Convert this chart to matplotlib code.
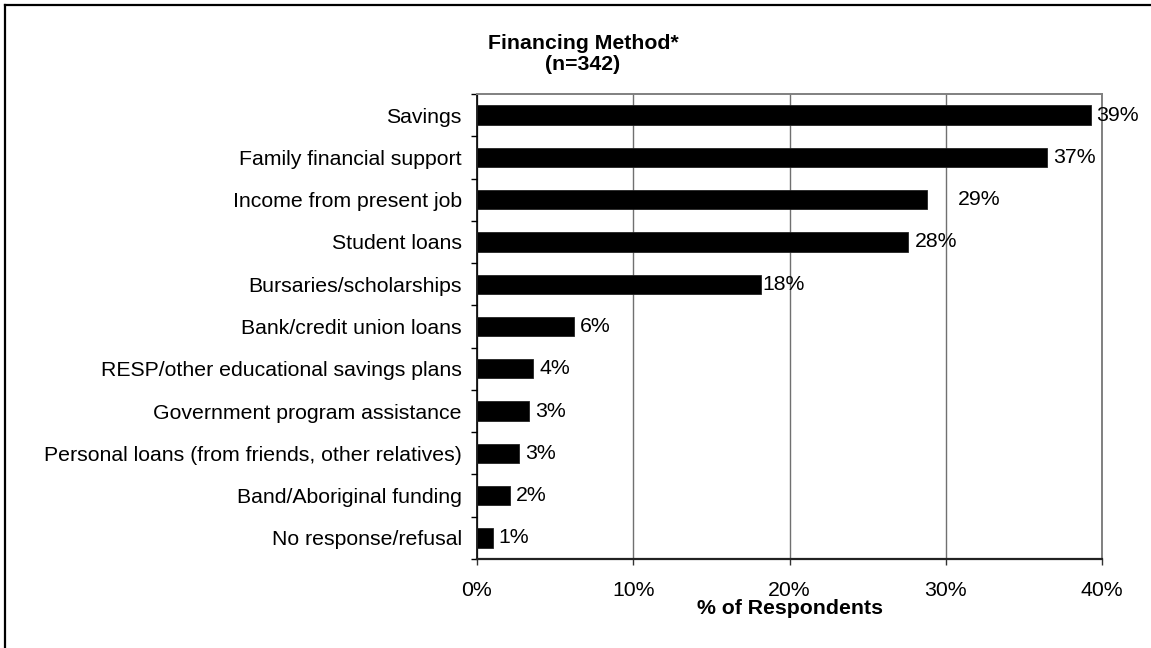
import matplotlib
matplotlib.use("Agg")
import matplotlib.pyplot as plt
from matplotlib.lines import Line2D
from matplotlib.ticker import FixedLocator, PercentFormatter

categories = [
	"Savings",
	"Family financial support",
	"Income from present job",
	"Student loans",
	"Bursaries/scholarships",
	"Bank/credit union loans",
	"RESP/other educational savings plans",
	"Government program assistance",
	"Personal loans (from friends, other relatives)",
	"Band/Aboriginal funding",
	"No response/refusal",
]
percent = [39.3, 36.5, 28.8, 27.6, 18.2, 6.2, 3.6, 3.3, 2.7, 2.1, 1.0]
labels = ["39%", "37%", "29%", "28%", "18%", "6%", "4%", "3%", "3%", "2%", "1%"]
x_ticks = [0, 10, 20, 30, 40]

# extra push (in points) for a couple of the value labels
label_nudge = {0: -1, 2: 18, 4: -4}

plt.rcParams['font.family'] = ['Liberation Sans', 'DejaVu Sans']
fs = 15.3

fig = plt.figure(figsize=(11.51, 6.48), dpi=100)
ax = fig.add_axes([477 / 1151, 1 - 559 / 648, (1102 - 477) / 1151, (559 - 94) / 648])

ypos = list(range(len(categories)))
ax.barh(ypos, percent, height=0.46, color='black', edgecolor='#222222', linewidth=0.6, zorder=3)

for i, (v, lab) in enumerate(zip(percent, labels)):
	ax.annotate(lab, xy=(v, i), xytext=(4.5 + label_nudge.get(i, 0), 0),
		textcoords='offset points', va='center', ha='left', fontsize=fs, zorder=4)

ax.set_xlim(0, 40)
ax.set_ylim(len(categories) - 0.5, -0.5)

# category names sit between the boundary tick marks
ax.set_yticks(ypos)
ax.set_yticklabels(categories, fontsize=fs)
ax.yaxis.set_minor_locator(FixedLocator([i - 0.5 for i in range(len(categories) + 1)]))
ax.tick_params(axis='y', which='major', length=0, pad=11)
ax.tick_params(axis='y', which='minor', length=4.3, width=1, color='black', direction='out')

ax.set_xticks(x_ticks)
ax.xaxis.set_major_formatter(PercentFormatter(decimals=0))
ax.tick_params(axis='x', which='major', length=4.3, width=1, color='#333333', labelsize=fs, pad=11.5)

ax.xaxis.grid(True, color='#707070', linewidth=1)
ax.set_axisbelow(True)

ax.spines['left'].set_color('black')
ax.spines['left'].set_linewidth(1.2)
ax.spines['bottom'].set_color('#222222')
ax.spines['bottom'].set_linewidth(1.6)
ax.spines['top'].set_color('#808080')
ax.spines['top'].set_linewidth(1.4)
ax.spines['right'].set_color('#808080')
ax.spines['right'].set_linewidth(1.4)

# title and axis label
fig.text(583 / 1151, 1 - 54 / 648, "Financing Method*\n(n=342)", ha='center', va='center',
	fontsize=fs, fontweight='bold', linespacing=1.1)
fig.text(790 / 1151, 1 - 614 / 648, "% of Respondents", ha='center', va='baseline',
	fontsize=fs, fontweight='bold')

# outer frame (only top and left edges fall inside the image)
fig.add_artist(Line2D([5 / 1151, 1], [1 - 5 / 648, 1 - 5 / 648], transform=fig.transFigure,
	color='black', linewidth=1.6))
fig.add_artist(Line2D([5 / 1151, 5 / 1151], [0, 1 - 5 / 648], transform=fig.transFigure,
	color='black', linewidth=1.6))

plt.savefig("out.png", dpi=100)
plt.close()
